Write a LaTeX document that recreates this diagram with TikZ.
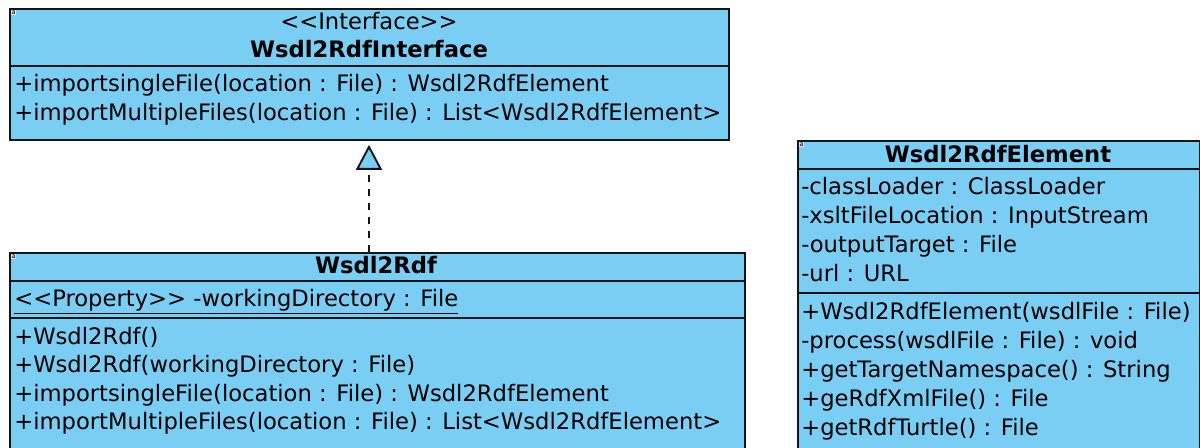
\documentclass[tikz,border=0pt]{standalone}
\usepackage{fontspec}
\setmainfont{DejaVu Sans}
\usetikzlibrary{arrows.meta}
\definecolor{umlblue}{RGB}{122,206,244}
\definecolor{umlline}{RGB}{20,20,20}
\newcommand\umlopen{<\kern0pt<}
\newcommand\umlclose{>\kern0pt>}
\begin{document}
\begin{tikzpicture}[x=0.75pt,y=-0.75pt,
  classbox/.style={draw=umlline,fill=umlblue,line width=1.4pt,anchor=north west,inner sep=0},
  divider/.style={draw=umlline,line width=1.4pt},
  txt/.style={anchor=base west,inner sep=0,font=\fontsize{17}{20}\selectfont},
  ttl/.style={anchor=base,inner sep=0,font=\fontsize{17}{20}\selectfont\bfseries},
  stereo/.style={anchor=base,inner sep=0,font=\fontsize{17}{20}\selectfont},
  icon/.style={anchor=north west,inner sep=0.3pt,fill=black!10,font=\fontsize{5}{5}\selectfont},
  realize/.style={draw=umlline,line width=1.4pt,dash pattern=on 5.25pt off 5.25pt,
    -{Triangle[length=18.75pt,width=19.5pt,fill=umlblue,line width=1.4pt]}}]
\useasboundingbox (0,0) rectangle (1200,448);
\clip (0,0) rectangle (1200,448);

% Interface box
\node[classbox,minimum width=539.25pt,minimum height=98.25pt] (iface) at (9,8) {};
\draw[divider] (9,66) -- (728,66);
\node[icon] (iconA) at (11,10) {a};
\node[stereo] (ifst) at (369,30) {\umlopen Interface\umlclose};
\node[ttl] (ifname) at (369,58) {Wsdl2RdfInterface};
\node[txt] (ifm1) at (14,92) {+importsingleFile(location : File) : Wsdl2RdfElement};
\node[txt] (ifm2) at (14,121) {+importMultipleFiles(location : File) : List<Wsdl2RdfElement>};

% Wsdl2Rdf box
\node[classbox,minimum width=551.25pt,minimum height=163.5pt] (rdf) at (9,252) {};
\draw[divider] (9,281) -- (744,281);
\draw[divider] (9,318) -- (746,318);
\node[icon] (iconB) at (11,254) {a};
\node[ttl] (rdfname) at (376,274) {Wsdl2Rdf};
\node[txt] (rdfa1) at (14,307) {\underline{\umlopen Property\umlclose{} -workingDirectory : File}};
\node[txt] (rdfm1) at (14,345) {+Wsdl2Rdf()};
\node[txt] (rdfm2) at (14,373) {+Wsdl2Rdf(workingDirectory : File)};
\node[txt] (rdfm3) at (14,402) {+importsingleFile(location : File) : Wsdl2RdfElement};
\node[txt] (rdfm4) at (14,430) {+importMultipleFiles(location : File) : List<Wsdl2RdfElement>};

% Wsdl2RdfElement box
\node[classbox,minimum width=301.5pt,minimum height=247.5pt] (elem) at (797,140) {};
\draw[divider] (797,169) -- (1199,169);
\draw[divider] (797,293) -- (1199,293);
\node[icon] (iconC) at (799,142) {a};
\node[ttl] (elname) at (998,163) {Wsdl2RdfElement};
\node[txt] (ela1) at (801,195) {-classLoader : ClassLoader};
\node[txt] (ela2) at (801,224) {-xsltFileLocation : InputStream};
\node[txt] (ela3) at (801,253) {-outputTarget : File};
\node[txt] (ela4) at (801,282) {-url : URL};
\node[txt] (elm1) at (801,320) {+Wsdl2RdfElement(wsdlFile : File)};
\node[txt] (elm2) at (801,349) {-process(wsdlFile : File) : void};
\node[txt] (elm3) at (801,378) {+getTargetNamespace() : String};
\node[txt] (elm4) at (801,407) {+geRdfXmlFile() : File};
\node[txt] (elm5) at (801,436) {+getRdfTurtle() : File};

% realization
\coordinate (tipx) at (369,0);
\draw[realize,shorten >=3pt] (rdf.north -| tipx) -- (iface.south -| tipx);
\end{tikzpicture}
\end{document}
